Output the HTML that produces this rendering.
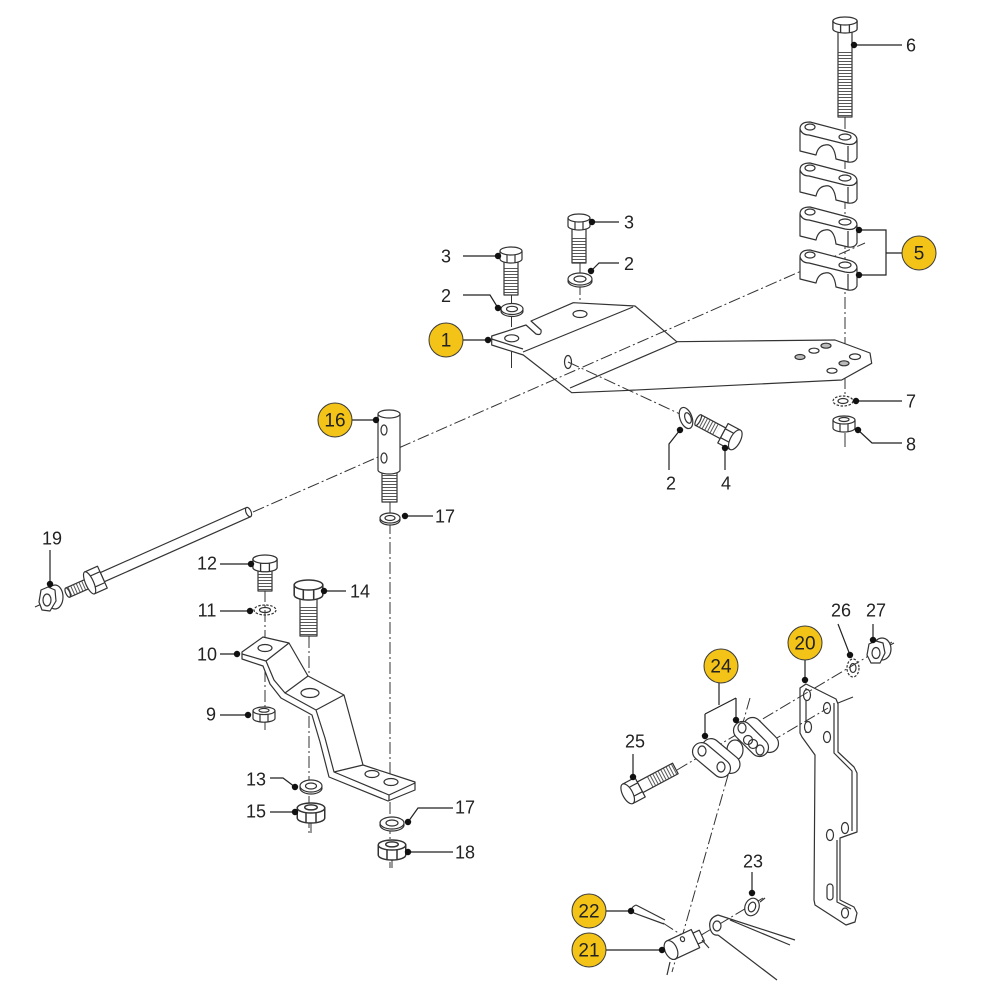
<!DOCTYPE html>
<html><head><meta charset="utf-8"><style>
html,body{margin:0;padding:0;background:#fff;}
svg{display:block}
text{font-family:"Liberation Sans",sans-serif;font-size:18px;fill:#222;text-anchor:middle}
.c{font-size:19px}
</style></head><body>
<svg width="1000" height="1000" viewBox="0 0 1000 1000" xmlns="http://www.w3.org/2000/svg">
<defs>
 <pattern id="thh" width="4" height="3" patternUnits="userSpaceOnUse"><line x1="0" y1="1.5" x2="4" y2="1.5" stroke="#444" stroke-width="0.9"/></pattern>
 <pattern id="thv" width="3" height="4" patternUnits="userSpaceOnUse"><line x1="1.5" y1="0" x2="1.5" y2="4" stroke="#444" stroke-width="0.9"/></pattern>
 <g id="hexhead">
  <path d="M-11,4 A11,4 0 0 1 11,4 L11,12 A11,4 0 0 1 -11,12 Z" fill="#fff"/>
  <path d="M-11,4 A11,4 0 0 0 11,4" fill="none"/>
  <path d="M-4,8 V15.5 M4,8 V15.5" fill="none"/>
 </g>
 <g id="nutV">
  <path d="M-11,4 A11,4 0 0 1 11,4 L11,12 A11,4 0 0 1 -11,12 Z" fill="#fff"/>
  <path d="M-11,4 A11,4 0 0 0 11,4" fill="none"/>
  <path d="M-4,8 V15.5 M4,8 V15.5" fill="none"/>
  <ellipse cx="0" cy="3.5" rx="5" ry="2" fill="#fff"/>
 </g>
 <g id="clamp">
  <path d="M-10,2 Q-10,-5 0,-5 L38,5 Q47,7 47,13 L47,31 Q45,36 38,35 L26,32 Q24,16 15,18 Q8,19 6,28 L-10,24 Z" fill="#fff"/>
  <path d="M-10,2 Q-8,8 -1,8 L35,17 Q45,19 47,13 M38,19 V35" fill="none"/>
  <ellipse cx="0" cy="0" rx="5" ry="3" fill="#fff"/>
  <ellipse cx="35" cy="10" rx="6" ry="3" fill="#fff"/>
 </g>
</defs>

<!-- axis / center lines (under parts) -->
<g stroke="#333" stroke-width="1" fill="none" stroke-dasharray="12 3 2 3">
 <path d="M845,117 V395"/>
 <path d="M265,590 V730"/>
 <path d="M309,636 V833"/>
 <path d="M390,502 V868"/>
 <path d="M580,263 V312"/>
 <path d="M511.5,295 V334"/>
</g>
<g stroke="#333" stroke-width="1" fill="none">
 <path d="M511.5,350 V368"/>
 <path d="M845,433 V447"/>
 <path d="M265,722 V730"/>
 <path d="M311,823 V833"/>
 <path d="M392,860 V868"/>
 <path d="M35,607 L48,601"/>
</g>

<g stroke="#333" stroke-width="1.2" stroke-linejoin="round">
 <!-- PLATE 1 -->
 <path d="M491.7,336 L526,325 L536,334 Q542,336 541,330 L531,321 L573.3,302.7 L635,306 L676.7,341.7 L835,340 L870,353 L871.7,363.3 L841.7,380 L621.7,390.7 L571.7,392.7 L523.3,355 L491.7,345 Z" fill="#fff"/>
 <path d="M523,352 L633,307 M570,388 L677,342 M491.7,339 L523,349" fill="none"/>
 <ellipse cx="511.7" cy="338.3" rx="7" ry="3.5" fill="#fff"/>
 <ellipse cx="580" cy="314" rx="7" ry="3.5" fill="#fff"/>
 <ellipse cx="568" cy="362" rx="3.5" ry="6.5" fill="#fff"/>
 <ellipse cx="800" cy="357" rx="5" ry="2.5" fill="#bbb"/>
 <ellipse cx="814" cy="350.7" rx="5" ry="2.5" fill="#fff"/>
 <ellipse cx="826" cy="345.7" rx="5" ry="2.5" fill="#bbb"/>
 <ellipse cx="855" cy="356.7" rx="5.5" ry="2.8" fill="#fff"/>
 <ellipse cx="844" cy="363.3" rx="5" ry="2.5" fill="#bbb"/>
 <ellipse cx="832" cy="370.7" rx="5" ry="2.5" fill="#fff"/>
</g>

<!-- long dash-dot lines over plate -->
<g stroke="#333" stroke-width="1" fill="none" stroke-dasharray="12 3 2 3">
 <path d="M253,512 L865,243"/>
 <path d="M568,362 L680,414"/>
</g>

<g stroke="#333" stroke-width="1.2" stroke-linejoin="round">
 <!-- bolt 3 left, washer 2 -->
 <rect x="504" y="262" width="14" height="33" fill="#fff"/>
 <rect x="504" y="268" width="14" height="27" fill="url(#thh)" stroke="none"/>
 <use href="#hexhead" transform="translate(511,247)"/>
 <ellipse cx="512" cy="311" rx="11" ry="5.5" fill="#fff"/>
 <ellipse cx="512" cy="309" rx="11" ry="5.5" fill="#fff"/>
 <ellipse cx="512" cy="309" rx="5.5" ry="2.7" fill="#fff"/>
 <!-- bolt 3 right, washer 2 -->
 <rect x="572" y="229" width="14" height="34" fill="#fff"/>
 <rect x="572" y="236" width="14" height="27" fill="url(#thh)" stroke="none"/>
 <use href="#hexhead" transform="translate(579,214)"/>
 <ellipse cx="580" cy="281" rx="12" ry="6" fill="#fff"/>
 <ellipse cx="580" cy="279" rx="12" ry="6" fill="#fff"/>
 <ellipse cx="580" cy="279" rx="6" ry="3" fill="#fff"/>

 <!-- bolt 4 with washer -->
 <ellipse cx="686" cy="418" rx="6" ry="11" transform="rotate(-20 686 418)" fill="#fff"/>
 <ellipse cx="688" cy="418" rx="3" ry="5.5" transform="rotate(-20 688 418)" fill="#fff"/>
 <g transform="translate(730,437) rotate(28)">
  <rect x="-36" y="-6" width="28" height="12" fill="#fff"/>
  <rect x="-36" y="-6" width="22" height="12" fill="url(#thv)" stroke="none"/>
  <ellipse cx="-36" cy="0" rx="2" ry="6" fill="#fff"/>
  <rect x="-8" y="-11" width="14" height="22" fill="#fff"/>
  <path d="M-8,-5 H6 M-8,5 H6" fill="none"/>
  <ellipse cx="6" cy="0" rx="5" ry="11" fill="#fff"/>
 </g>

 <!-- bolt 6 and clamps 5 -->
 <rect x="838" y="32" width="14" height="85" fill="#fff"/>
 <rect x="838" y="50" width="14" height="67" fill="url(#thh)" stroke="none"/>
 <use href="#hexhead" transform="translate(845,17) scale(1.1,1)"/>
 <use href="#clamp" transform="translate(810,127)"/>
 <use href="#clamp" transform="translate(810,168)"/>
 <use href="#clamp" transform="translate(810,212)"/>
 <use href="#clamp" transform="translate(810,255)"/>
 <!-- 7 lock washer, 8 nut -->
 <ellipse cx="843" cy="401" rx="10" ry="5" fill="none" stroke-dasharray="2.5 1.5"/>
 <ellipse cx="843" cy="401" rx="5" ry="2.5" fill="none"/>
 <use href="#nutV" transform="translate(844,416)"/>

 <!-- rod 19 -->
 <g transform="translate(96,580) rotate(-24)">
  <rect x="7" y="-5" width="160" height="10" fill="#fff"/>
  <ellipse cx="167" cy="0" rx="2.5" ry="5" fill="#fff"/>
  <rect x="-31" y="-5" width="24" height="10" fill="#fff"/>
  <rect x="-29" y="-5" width="22" height="10" fill="url(#thv)" stroke="none"/>
  <ellipse cx="-31" cy="0" rx="2" ry="5" fill="#fff"/>
  <rect x="-7" y="-12" width="14" height="24" fill="#fff"/>
  <path d="M-7,-6 H7 M-7,6 H7" fill="none"/>
  <ellipse cx="-7" cy="0" rx="4" ry="12" fill="#fff"/>
 </g>
 <!-- nut 19 -->
 <ellipse cx="55" cy="597" rx="8" ry="12" fill="#fff"/>
 <path d="M48,587 L55,590 L56,601 L50,611 L42,610 L39,602 L41,590 Z" fill="#fff"/>
 <ellipse cx="47" cy="600" rx="4" ry="6" fill="#fff"/>

 <!-- pin 16 -->
 <rect x="382" y="470" width="15" height="32" fill="#fff"/>
 <rect x="382" y="474" width="15" height="28" fill="url(#thh)" stroke="none"/>
 <path d="M378,414 V470 A11,4 0 0 0 400,470 V414" fill="#fff"/>
 <ellipse cx="389" cy="414" rx="11" ry="4" fill="#fff"/>
 <ellipse cx="384" cy="430" rx="3" ry="5" fill="#fff"/>
 <ellipse cx="384" cy="458" rx="3" ry="5" fill="#fff"/>
 <!-- washer 17 top -->
 <ellipse cx="390" cy="520" rx="10" ry="5" fill="#fff"/>
 <ellipse cx="390" cy="518" rx="10" ry="5" fill="#fff"/>
 <ellipse cx="390" cy="518" rx="5" ry="2.5" fill="#fff"/>

 <!-- bracket 10 -->
 <path d="M242,652 L263,637 L289,643 L308,676 L344,695 L363,765 L415,782 L415,790 L388,801 L329,777 L320,742 L312,715 L281,698 L270,684 L263,666 L242,659 Z" fill="#fff"/>
 <path d="M242,654 L266,661 L274,680 L285,693 L316,710 L325,738 L334,772 L389,795 L415,783 M266,661 L289,643 M285,693 L308,676 M316,710 L344,695 M334,772 L363,765 M389,795 V801" fill="none"/>
 <ellipse cx="265" cy="648" rx="7" ry="3.5" fill="#fff"/>
 <ellipse cx="310" cy="693" rx="9" ry="4.5" fill="#fff"/>
 <ellipse cx="372" cy="774" rx="7" ry="3.5" fill="#fff"/>
 <ellipse cx="391" cy="782" rx="7" ry="3.5" fill="#fff"/>
 <!-- bolt 12, lock washer 11, nut 9 -->
 <rect x="258" y="571" width="14" height="20" fill="#fff"/>
 <rect x="258" y="574" width="14" height="17" fill="url(#thh)" stroke="none"/>
 <use href="#hexhead" transform="translate(265,555) scale(1.1,1.05)"/>
 <ellipse cx="265" cy="610" rx="11" ry="5" fill="none" stroke-dasharray="2.5 1.5"/>
 <ellipse cx="265" cy="610" rx="5.5" ry="2.5" fill="none"/>
 <use href="#nutV" transform="translate(264,707) scale(1,0.95)"/>
 <!-- bolt 14 -->
 <rect x="300" y="598" width="17" height="38" fill="#fff"/>
 <rect x="300" y="606" width="17" height="30" fill="url(#thh)" stroke="none"/>
 <use href="#hexhead" transform="translate(308.5,580) scale(1.3,1.25)"/>
 <!-- washer 13, nut 15 -->
 <ellipse cx="311" cy="788" rx="11" ry="6" fill="#fff"/>
 <ellipse cx="311" cy="786" rx="11" ry="6" fill="#fff"/>
 <ellipse cx="311" cy="786" rx="5.5" ry="3" fill="#fff"/>
 <use href="#nutV" transform="translate(311,803) scale(1.25,1.25)"/>
 <!-- washer 17 lower, nut 18 -->
 <ellipse cx="392" cy="825" rx="12" ry="6" fill="#fff"/>
 <ellipse cx="392" cy="823" rx="12" ry="6" fill="#fff"/>
 <ellipse cx="392" cy="823" rx="6" ry="3" fill="#fff"/>
 <use href="#nutV" transform="translate(392,840) scale(1.25,1.25)"/>

 <!-- plate 20 -->
 <path d="M800,688 L806,684 L836,699 L838,704 L838,752 L854,767 L857,773 L857,832 L840,838 L840,900 L854,907 L857,913 L855,922 L846,925 L815,905 L814,900 L815,755 L802,737 L800,733 Z" fill="#fff"/>
 <path d="M834,703 V753 L852,771 V831 M837,840 V902 L851,909 M838,703 L853,697 M806,688 V733" fill="none"/>
 <ellipse cx="807" cy="695" rx="3.5" ry="5.5" fill="#fff"/>
 <ellipse cx="827" cy="708" rx="3.5" ry="5.5" fill="#fff"/>
 <ellipse cx="808" cy="727" rx="3.5" ry="5.5" fill="#fff"/>
 <ellipse cx="827" cy="737" rx="3.5" ry="5.5" fill="#fff"/>
 <ellipse cx="845" cy="828" rx="3.5" ry="5.5" fill="#fff"/>
 <ellipse cx="830" cy="835" rx="3.5" ry="5.5" fill="#fff"/>
 <rect x="827" y="884" width="6" height="16" rx="3" fill="#fff"/>
 <ellipse cx="845" cy="913" rx="3.5" ry="5" fill="#fff"/>
</g>

<!-- lines in lower right assembly -->
<g stroke="#333" stroke-width="1" fill="none" stroke-dasharray="12 3 2 3">
 <path d="M677,770 L892,642"/>
 <path d="M770,742 L828,708"/>
 <path d="M750,698 L672,972"/>
 <path d="M763,898 L693,940"/>
 <path d="M663,923 L683,936"/>
</g>

<g stroke="#333" stroke-width="1.2" stroke-linejoin="round">
 <!-- 24 blocks -->
 <rect x="-21" y="-9" width="42" height="18" rx="9" transform="translate(761,735) rotate(45)" fill="#fff"/>
 <rect x="-21" y="-9" width="42" height="18" rx="9" transform="translate(751,739) rotate(45)" fill="#fff"/>
 <ellipse cx="742" cy="728" rx="4" ry="5" fill="#fff"/>
 <ellipse cx="760" cy="750" rx="4" ry="5" fill="#fff"/>
 <circle cx="748" cy="740" r="4.5" fill="none"/>
 <circle cx="753" cy="744" r="4.5" fill="none"/>
 <ellipse cx="735" cy="750" rx="8" ry="10" fill="#fff"/>
 <rect x="-22" y="-9" width="44" height="18" rx="9" transform="translate(721,756) rotate(40)" fill="#fff"/>
 <rect x="-22" y="-9" width="44" height="18" rx="9" transform="translate(711.5,760) rotate(40)" fill="#fff"/>
 <ellipse cx="702" cy="751" rx="4" ry="5" fill="#fff"/>
 <ellipse cx="721" cy="767" rx="4" ry="5" fill="#fff"/>
 <!-- bolt 25 -->
 <g transform="translate(633,791) rotate(-28)">
  <rect x="8" y="-6" width="40" height="12" fill="#fff"/>
  <rect x="18" y="-6" width="30" height="12" fill="url(#thv)" stroke="none"/>
  <rect x="-6" y="-11" width="14" height="22" fill="#fff"/>
  <path d="M-6,-5 H8 M-6,5 H8" fill="none"/>
  <ellipse cx="-6" cy="0" rx="5" ry="11" fill="#fff"/>
 </g>
 <!-- 26 lock washer, 27 nut -->
 <ellipse cx="853" cy="668" rx="6" ry="9" fill="none" stroke-dasharray="2.5 1.5"/>
 <ellipse cx="853" cy="668" rx="3" ry="4.5" fill="none"/>
 <ellipse cx="882" cy="649" rx="9" ry="11" fill="#fff"/>
 <path d="M876,641 L883,643 L885,653 L880,663 L871,663 L867,655 L869,644 Z" fill="#fff"/>
 <ellipse cx="876" cy="653" rx="4" ry="5.5" fill="#fff"/>
 <path d="M890,645 L894,643" fill="none"/>
 <!-- washer 23 -->
 <ellipse cx="752" cy="907" rx="7" ry="9" transform="rotate(20 752 907)" fill="#fff"/>
 <ellipse cx="752" cy="907" rx="3.5" ry="5" transform="rotate(20 752 907)" fill="#fff"/>
 <path d="M760,902 L765,898" fill="none"/>
 <!-- lever -->
 <path d="M718,915 L795,940 M730,920 L790,945 M718,935 L777,980" fill="none"/>
 <path d="M718,915 Q708,918 710,928 Q712,936 718,935" fill="#fff"/>
 <ellipse cx="717" cy="926" rx="4" ry="5" fill="#fff"/>
 <!-- pin 21 -->
 <g transform="translate(671,950) rotate(-25)">
  <rect x="26" y="-6" width="8" height="12" fill="#fff"/>
  <rect x="0" y="-10" width="27" height="20" fill="#fff"/>
  <ellipse cx="0" cy="0" rx="6" ry="10" fill="#fff"/>
  <ellipse cx="15" cy="-5" rx="2" ry="2.5" fill="#fff"/>
 </g>
 <path d="M670,962 L667,975 M702,940 L709,948" fill="none"/>
 <!-- cotter 22 -->
 <path d="M636,905 Q629,908 634,913 L664,924 M636,905 L665,920" fill="#fff"/>
</g>

<!-- leaders -->
<g stroke="#222" stroke-width="1.2" fill="none">
 <path d="M854,45 H902"/>
 <path d="M592,222 H619"/>
 <path d="M591,271 L599,263 H619"/>
 <path d="M463,256 H498"/>
 <path d="M463,295 H490 L498,308"/>
 <path d="M463,340 H488"/>
 <path d="M680,430 L669,444 V470"/>
 <path d="M725,448 V470"/>
 <path d="M859,230 H886 V275 H859 M886,253 H902"/>
 <path d="M856,401 H902"/>
 <path d="M858,430 L872,443 H902"/>
 <path d="M352,420 H376"/>
 <path d="M405,516 H433"/>
 <path d="M50,550 V584"/>
 <path d="M220,564 H251"/>
 <path d="M324,591 H346"/>
 <path d="M220,611 H250"/>
 <path d="M220,654 H237"/>
 <path d="M220,715 H248"/>
 <path d="M270,778 H283 L295,787"/>
 <path d="M270,812 H295"/>
 <path d="M408,822 L418,808 H453"/>
 <path d="M408,852 H453"/>
 <path d="M838,624 L850,655"/>
 <path d="M873,624 V640"/>
 <path d="M805,660 V680"/>
 <path d="M719,683 V705 M705,714 L736,698 M705,714 V736 M736,698 V720"/>
 <path d="M633,754 V777"/>
 <path d="M752,872 V893"/>
 <path d="M606,911 H631"/>
 <path d="M606,950 H662"/>
</g>
<g fill="#111">
 <circle cx="854" cy="45" r="3.2"/><circle cx="592" cy="222" r="3.2"/><circle cx="591" cy="271" r="3.2"/>
 <circle cx="498" cy="256" r="3.2"/><circle cx="498" cy="308" r="3.2"/><circle cx="488" cy="340" r="3.2"/>
 <circle cx="680" cy="430" r="3.2"/><circle cx="725" cy="448" r="3.2"/><circle cx="859" cy="230" r="3.2"/>
 <circle cx="859" cy="275" r="3.2"/><circle cx="856" cy="401" r="3.2"/><circle cx="858" cy="430" r="3.2"/>
 <circle cx="376" cy="420" r="3.2"/><circle cx="405" cy="516" r="3.2"/><circle cx="50" cy="584" r="3.2"/>
 <circle cx="251" cy="564" r="3.2"/><circle cx="324" cy="591" r="3.2"/><circle cx="250" cy="611" r="3.2"/>
 <circle cx="237" cy="654" r="3.2"/><circle cx="248" cy="715" r="3.2"/><circle cx="295" cy="787" r="3.2"/>
 <circle cx="295" cy="812" r="3.2"/><circle cx="408" cy="822" r="3.2"/><circle cx="408" cy="852" r="3.2"/>
 <circle cx="850" cy="655" r="3.2"/><circle cx="873" cy="640" r="3.2"/><circle cx="805" cy="680" r="3.2"/>
 <circle cx="705" cy="736" r="3.2"/><circle cx="736" cy="720" r="3.2"/><circle cx="633" cy="777" r="3.2"/>
 <circle cx="752" cy="893" r="3.2"/><circle cx="631" cy="911" r="3.2"/><circle cx="662" cy="950" r="3.2"/>
</g>

<!-- callout circles -->
<g fill="#f3c317" stroke="#3a3a3a" stroke-width="1">
 <circle cx="446" cy="340" r="17"/>
 <circle cx="919" cy="253" r="17"/>
 <circle cx="335" cy="420" r="17"/>
 <circle cx="805" cy="643" r="17"/>
 <circle cx="721" cy="666" r="17"/>
 <circle cx="589" cy="911" r="17"/>
 <circle cx="589" cy="950" r="17"/>
</g>
<text class="c" x="446" y="346.5">1</text>
<text class="c" x="919" y="259.5">5</text>
<text class="c" x="335" y="426.5">16</text>
<text class="c" x="805" y="649.5">20</text>
<text class="c" x="721" y="672.5">24</text>
<text class="c" x="589" y="917.5">22</text>
<text class="c" x="589" y="956.5">21</text>

<!-- labels -->
<text x="911" y="51.5">6</text>
<text x="629" y="228.5">3</text>
<text x="446" y="262.5">3</text>
<text x="629" y="270">2</text>
<text x="446" y="302">2</text>
<text x="911" y="407.5">7</text>
<text x="911" y="450.5">8</text>
<text x="671" y="489.5">2</text>
<text x="726" y="489.5">4</text>
<text x="445" y="522.5">17</text>
<text x="52" y="544.5">19</text>
<text x="207" y="569.5">12</text>
<text x="360" y="597.5">14</text>
<text x="207" y="616.5">11</text>
<text x="207" y="660.5">10</text>
<text x="211" y="720.5">9</text>
<text x="256" y="785.5">13</text>
<text x="256" y="817.5">15</text>
<text x="465" y="813.5">17</text>
<text x="465" y="858.5">18</text>
<text x="841" y="616.5">26</text>
<text x="876" y="616.5">27</text>
<text x="635" y="747.5">25</text>
<text x="753" y="867.5">23</text>
</svg>
</body></html>
